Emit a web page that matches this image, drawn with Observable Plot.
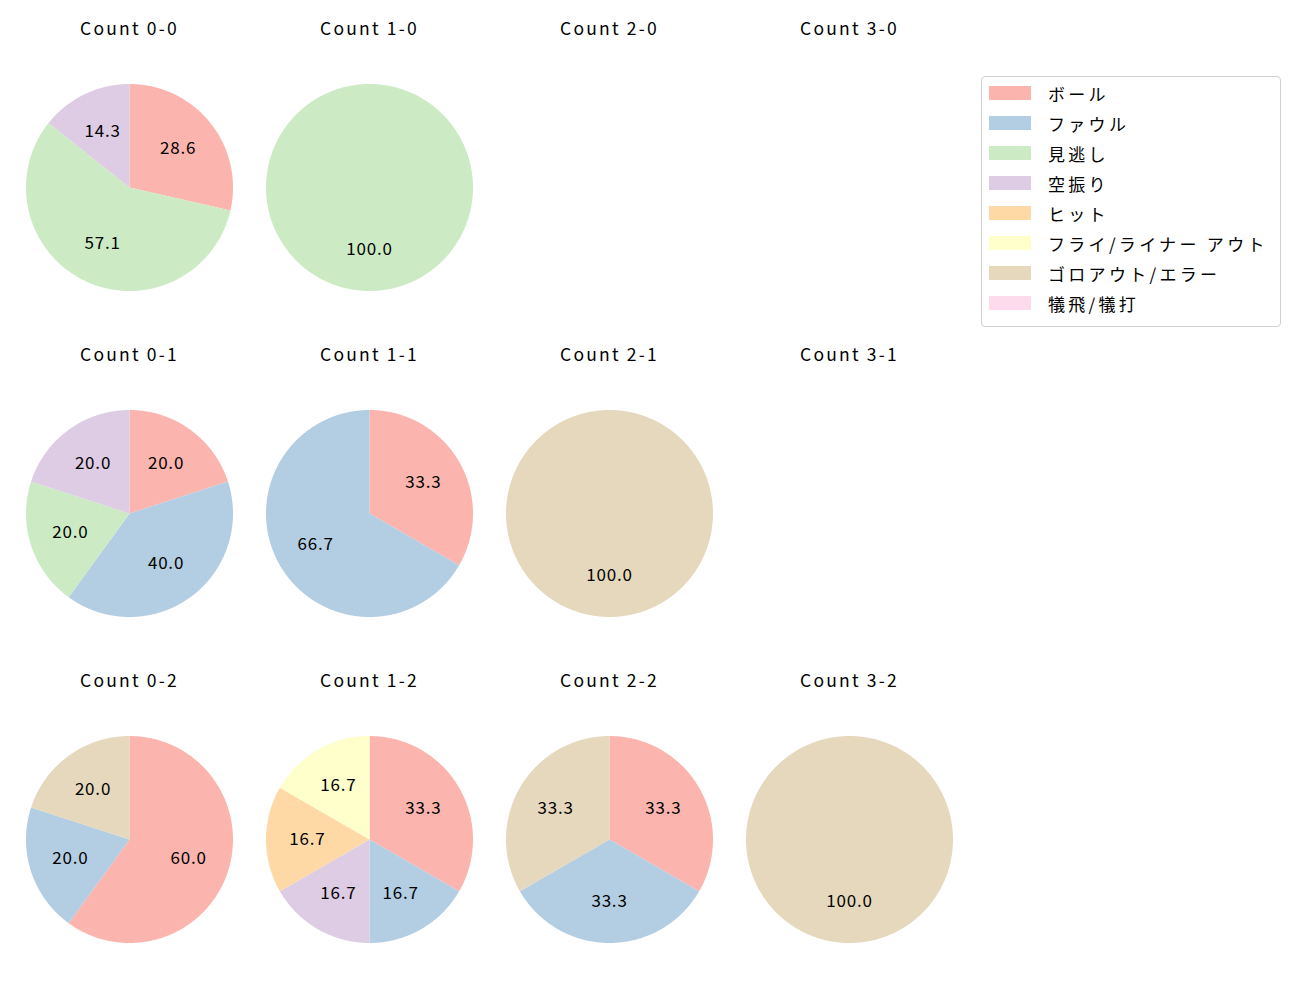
<!DOCTYPE html>
<html>
<head>
<meta charset="utf-8">
<script src="https://cdn.jsdelivr.net/npm/d3@7"></script>
<script src="https://cdn.jsdelivr.net/npm/@observablehq/plot@0.6"></script>
<style>
  body { margin: 0; background: #fff; font-family: "Noto Sans CJK JP", "Noto Sans", sans-serif; }
  #wrap { position: relative; width: 1300px; height: 1000px; overflow: hidden; }
  #legend { position: absolute; left: 981px; top: 76px; width: 300px; height: 251px;
    border: 1px solid #d0d0d0; border-radius: 4px; background: #fff; box-sizing: border-box; }
  .row { position: absolute; left: 7px; height: 30px; display: flex; align-items: center; font-size: 17px; letter-spacing: 3.3px; color: #000; white-space: nowrap; }
  .sw { width: 42px; height: 14px; margin-right: 17px; }
</style>
</head>
<body>
<div id="wrap"><div id="chart"></div><div id="legend"></div></div>
<script>
// Categories and colours (legend order)
const categories = ["ボール", "ファウル", "見逃し", "空振り", "ヒット", "フライ/ライナー アウト", "ゴロアウト/エラー", "犠飛/犠打"];
const colors = ["#fbb4ae", "#b3cde3", "#ccebc5", "#decbe4", "#fed9a6", "#ffffcc", "#e5d8bd", "#fddaec"];

// Counts (balls-strikes), in panel order
const balls   = ["0", "1", "2", "3", "0", "1", "2", "3", "0", "1", "2", "3"];
const strikes = ["0", "0", "0", "0", "1", "1", "1", "1", "2", "2", "2", "2"];

// Pitch outcomes per count (same order as balls/strikes)
const ball      = [2, 0, 0, 0, 1, 1, 0, 0, 3, 2, 1, 0];
const foul      = [0, 0, 0, 0, 2, 2, 0, 0, 1, 1, 1, 0];
const called    = [4, 1, 0, 0, 1, 0, 0, 0, 0, 0, 0, 0];
const swinging  = [1, 0, 0, 0, 1, 0, 0, 0, 0, 1, 0, 0];
const hit       = [0, 0, 0, 0, 0, 0, 0, 0, 0, 1, 0, 0];
const flyout    = [0, 0, 0, 0, 0, 0, 0, 0, 0, 1, 0, 0];
const groundout = [0, 0, 0, 0, 0, 0, 1, 0, 1, 0, 1, 1];
const sacrifice = [0, 0, 0, 0, 0, 0, 0, 0, 0, 0, 0, 0];
const series = [ball, foul, called, swinging, hit, flyout, groundout, sacrifice];

// Build wedge outlines and label positions from the data via d3.pie (clockwise from top)
const pie = d3.pie().sort(null).value(d => d.v);
const wedgePts = [];
const labels = [];
const titles = [];
balls.forEach((b, i) => {
  const s = strikes[i];
  titles.push({fx: b, fy: s, text: `Count ${b}-${s}`});
  const rows = categories.map((c, k) => ({c, v: series[k][i]})).filter(d => d.v > 0);
  if (!rows.length) return;
  const total = d3.sum(rows, d => d.v);
  pie(rows).forEach((a, j) => {
    const id = `${b}-${s}-${j}`;
    const n = Math.max(2, Math.ceil((a.endAngle - a.startAngle) / (Math.PI / 360)));
    wedgePts.push({id, c: a.data.c, fx: b, fy: s, x: 0, y: 0});
    for (let t = 0; t <= n; t++) {
      const ang = a.startAngle + (a.endAngle - a.startAngle) * t / n;
      wedgePts.push({id, c: a.data.c, fx: b, fy: s, x: Math.sin(ang), y: Math.cos(ang)});
    }
    wedgePts.push({id, c: a.data.c, fx: b, fy: s, x: 0, y: 0});
    const mid = (a.startAngle + a.endAngle) / 2;
    labels.push({fx: b, fy: s, x: 0.6 * Math.sin(mid), y: 0.6 * Math.cos(mid),
                 text: (100 * a.data.v / total).toFixed(1)});
  });
});

const R = 103.5; // pie radius in px
const hx = 120 / R, hy = 163 / R;
const chart = Plot.plot({
  width: 1300, height: 1000,
  marginLeft: 9, marginRight: 331, marginTop: 23, marginBottom: -2,
  style: {fontFamily: '"Noto Sans CJK JP", "Noto Sans", sans-serif', background: "#fff"},
  fx: {domain: ["0", "1", "2", "3"], padding: 0, axis: null},
  fy: {domain: ["0", "1", "2"], padding: 0, axis: null},
  x: {domain: [-hx, hx], axis: null},
  y: {domain: [-hy, hy], axis: null},
  color: {domain: categories, range: colors},
  marks: [
    Plot.line(wedgePts, {x: "x", y: "y", z: "id", fill: "c", stroke: null, fx: "fx", fy: "fy", curve: "linear"}),
    Plot.text(labels, {x: "x", y: "y", text: "text", fx: "fx", fy: "fy", fontSize: 17, fill: "#000"}),
    Plot.text(titles, {x: () => 0, y: () => 158 / R, text: "text", fx: "fx", fy: "fy", fontSize: 17.5, fill: "#000"})
  ]
});
// Text marks: labels first, titles second (Plot may emit one group per facet)
d3.select(chart).selectAll('text').each(function () {
  const fs = this.closest('g[font-size]');
  const size = fs ? fs.getAttribute('font-size') : null;
  if (size === "17.5") this.style.letterSpacing = "2.2px";
  else if (size === "17") this.style.letterSpacing = "0.8px";
});
document.getElementById("chart").appendChild(chart);

// Legend
const leg = document.getElementById("legend");
categories.forEach((c, k) => {
  const row = document.createElement("div");
  row.className = "row";
  row.style.top = (1 + 30 * k) + "px";
  row.innerHTML = `<div class="sw" style="background:${colors[k]}"></div><span>${c}</span>`;
  leg.appendChild(row);
});
</script>
</body>
</html>
